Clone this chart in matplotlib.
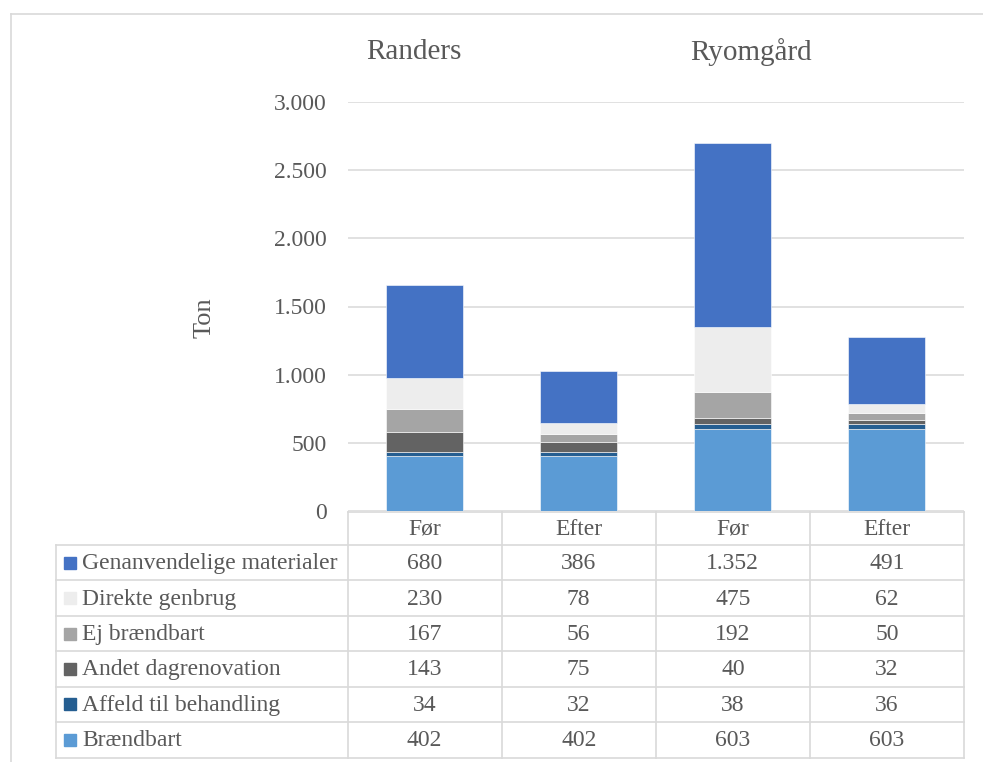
import matplotlib
matplotlib.use("Agg")
import matplotlib.pyplot as plt
import numpy as np

# data
groups = ["Randers", "Ryomgård"]
periods = ["Før", "Efter", "Før", "Efter"]
series = ["Brændbart", "Affeld til behandling", "Andet dagrenovation",
          "Ej brændbart", "Direkte genbrug", "Genanvendelige materialer"]
braendbart = [402, 402, 603, 603]
affald_beh = [34, 32, 38, 36]
andet_dag = [143, 75, 40, 32]
ej_braend = [167, 56, 192, 50]
direkte = [230, 78, 475, 62]
genanv = [680, 386, 1352, 491]
values = [braendbart, affald_beh, andet_dag, ej_braend, direkte, genanv]
colors = ["#5B9BD5", "#255E91", "#636363", "#A5A5A5", "#EDEDED", "#4472C4"]
yticks = [0, 500, 1000, 1500, 2000, 2500, 3000]

def fmt(v):
    return f"{v:,}".replace(",", ".")

plt.rcParams['font.family'] = ['Liberation Serif', 'DejaVu Serif']
txt = "#595959"
grid = "#D9D9D9"

W, H = 983, 762
fig = plt.figure(figsize=(W / 100, H / 100), dpi=100)

# pixel geometry
x0, x1 = 347.5, 964
ytop, ybot = 102, 511
ax = fig.add_axes([x0 / W, (H - ybot) / H, (x1 - x0) / W, (ybot - ytop) / H])

x = np.arange(len(periods))
bottom = np.zeros(len(periods))
for name, vals, c in zip(series, values, colors):
    ax.bar(x, vals, 0.5, bottom=bottom, color=c, edgecolor="white",
           linewidth=0.4, label=name, zorder=3)
    bottom += np.array(vals)

ax.set_xlim(-0.5, len(periods) - 0.5)
ax.set_ylim(0, 3000)
ax.set_yticks(yticks)
ax.set_yticklabels([fmt(v) for v in yticks], fontsize=17, color=txt)
ax.tick_params(axis="y", length=0, pad=15)
ax.set_xticks([])
ax.yaxis.grid(True, color=grid, linewidth=1.1, zorder=0)
for s in ax.spines.values():
    s.set_visible(False)
ax.set_ylabel("Ton", fontsize=19, color=txt, labelpad=0)
ax.yaxis.set_label_coords((216 - x0) / (x1 - x0), (ybot - 318) / (ybot - ytop))

# overlay in pixel coordinates for frame, group labels and data table
ov = fig.add_axes([0, 0, 1, 1], zorder=-1)
ov.set_xlim(0, W)
ov.set_ylim(H, 0)
ov.axis("off")
ov.plot([11, W], [14, 14], color=grid, lw=1.2)
ov.plot([11, 11], [14, H], color=grid, lw=1.2)

ov.text(414, 52, groups[0], fontsize=21, color=txt, ha="center", va="center")
ov.text(751, 52, groups[1], fontsize=21, color=txt, ha="center", va="center")

tab = fig.add_axes([0, 0, 1, 1])
tab.set_xlim(0, W)
tab.set_ylim(H, 0)
tab.axis("off")

colw = (x1 - x0) / len(periods)
colx = [x0 + i * colw for i in range(len(periods) + 1)]
lab_left = 56
head_top, head_bot = 511.5, 545
rowh = (757.5 - head_bot) / len(series)
rows_y = [head_bot + i * rowh for i in range(len(series) + 1)]
lw = 1.2

# header row
tab.plot([x0, x1], [head_top, head_top], color=grid, lw=lw)
for cx in colx:
    tab.plot([cx, cx], [head_top, rows_y[-1]], color=grid, lw=lw)
tab.plot([lab_left, lab_left], [head_bot, rows_y[-1]], color=grid, lw=lw)
for ry in rows_y:
    tab.plot([lab_left, x1], [ry, ry], color=grid, lw=lw)
for i, p in enumerate(periods):
    tab.text(colx[i] + colw / 2, (head_top + head_bot) / 2 + 1, p,
             fontsize=17, color=txt, ha="center", va="center")

# body rows, top row = last series
for r, (name, vals, c) in enumerate(zip(series[::-1], values[::-1], colors[::-1])):
    cy = rows_y[r] + rowh / 2
    tab.add_patch(plt.Rectangle((64, cy - 6), 12, 12, color=c))
    tab.text(82, cy + 1, name, fontsize=17, color=txt, ha="left", va="center")
    for i, v in enumerate(vals):
        tab.text(colx[i] + colw / 2, cy + 1, fmt(v), fontsize=17, color=txt,
                 ha="center", va="center")

fig.savefig("out.png", dpi=100, facecolor="white")
